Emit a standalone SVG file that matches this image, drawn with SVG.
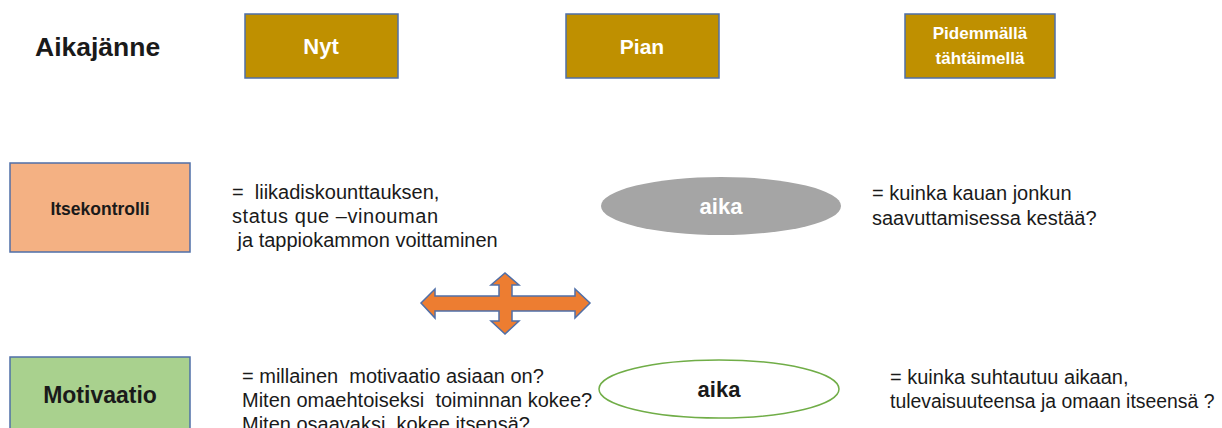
<svg xmlns="http://www.w3.org/2000/svg" width="1222" height="428" viewBox="0 0 1222 428">
<style>
text{font-family:"Liberation Sans",Arial,sans-serif;fill:#1a1a1a;white-space:pre}
.body{font-size:20px}
.b{font-weight:bold}
.hdr{fill:#BF9000;stroke:#4F6FA8;stroke-width:1.5}
.w{fill:#fff}
.c{text-anchor:middle}
</style>
<rect width="1222" height="428" fill="#fff"/>
<g id="aikajanne"><text class="b" x="35" y="56" style="font-size:26.5px">Aikajänne</text></g>
<g id="nyt"><rect class="hdr" x="245" y="14" width="153" height="64"/><text class="b w c" x="321" y="54" style="font-size:22px">Nyt</text></g>
<g id="pian"><rect class="hdr" x="566" y="14" width="153" height="64"/><text class="b w c" x="642" y="54" style="font-size:21px">Pian</text></g>
<g id="pidemmalla"><rect class="hdr" x="905" y="14" width="150" height="64"/><text class="b w c" x="980" y="39" style="font-size:17px">Pidemmällä</text><text class="b w c" x="980" y="64" style="font-size:17px">tähtäimellä</text></g>
<g id="itsekontrolli"><rect x="10" y="163" width="180" height="89" fill="#F4B183" stroke="#4F6FA8" stroke-width="1.5"/><text class="b c" x="100" y="215" style="font-size:17.5px">Itsekontrolli</text></g>
<g id="itsekontrolli-teksti"><text class="body" x="232" y="199">=  liikadiskounttauksen,</text><text class="body" x="232" y="223" textLength="206">status que –vinouman</text><text class="body" x="232" y="247"> ja tappiokammon voittaminen</text></g>
<g id="aika1"><ellipse cx="721" cy="206" rx="120" ry="29" fill="#A5A5A5"/><text class="b w c" x="721" y="214" style="font-size:22px">aika</text></g>
<g id="aika1-teksti"><text class="body" x="872" y="200">= kuinka kauan jonkun</text><text class="body" x="872" y="225">saavuttamisessa kestää?</text></g>
<g id="connectors"><polygon points="421,303 435,289 435,296 499,296 499,285 491,285 505,273 519,285 512,285 512,296 575,296 575,289 590,303 575,318 575,311 512,311 512,321 519,321 505,334 491,321 499,321 499,311 435,311 435,318" fill="#ED7D31" stroke="#4F6FA8" stroke-width="1.5"/></g>
<g id="motivaatio"><rect x="10" y="357" width="180" height="80" fill="#A9D18E" stroke="#4F6FA8" stroke-width="1.5"/><text class="b c" x="100" y="403" style="font-size:23px">Motivaatio</text></g>
<g id="motivaatio-teksti"><text class="body" x="242" y="383">= millainen  motivaatio asiaan on?</text><text class="body" x="242" y="407">Miten omaehtoiseksi  toiminnan kokee?</text><text class="body" x="242" y="431">Miten osaavaksi  kokee itsensä?</text></g>
<g id="aika2"><ellipse cx="719" cy="389" rx="120" ry="29" fill="#fff" stroke="#70AD47" stroke-width="1.5"/><text class="b c" x="719" y="397" style="font-size:22px">aika</text></g>
<g id="aika2-teksti"><text class="body" x="890" y="384">= kuinka suhtautuu aikaan,</text><text x="890" y="408" style="font-size:19.4px">tulevaisuuteensa ja omaan itseensä ?</text></g>
</svg>
